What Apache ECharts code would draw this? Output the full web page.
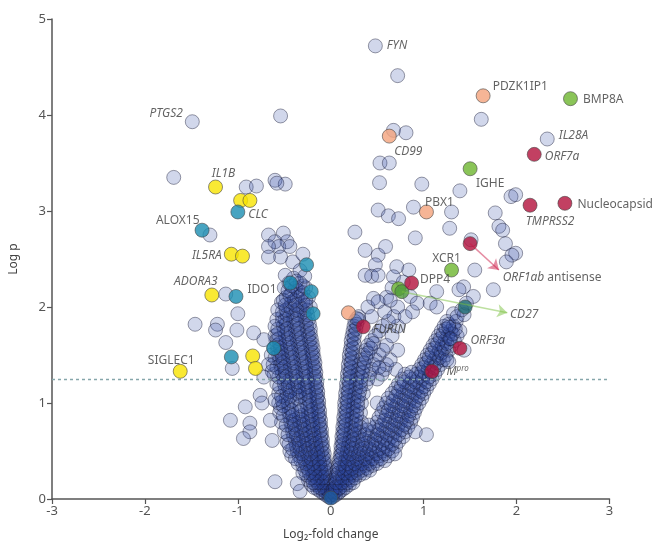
<!DOCTYPE html>
<html><head><meta charset="utf-8">
<script src="https://cdn.jsdelivr.net/npm/echarts/dist/echarts.min.js"></script>
<style>html,body{margin:0;padding:0;background:#fff}#c{width:666px;height:550px}</style>
</head><body><div id="c"></div>
<script>
// ---------------- DATA ----------------
const xTicks = [-3, -2, -1, 0, 1, 2, 3];
const yTicks = [0, 1, 2, 3, 4, 5];
const threshold = 1.25;

// labelled grey genes [log2FC, logP, name]
const greyLabelled = [[-1.49, 3.93, 'PTGS2'], [0.48, 4.72, 'FYN'], [2.33, 3.75, 'IL28A']];

// scattered grey genes, left side
const greyLeft = [
  [-1.69,3.35],[-0.54,3.99],[-0.91,3.25],[-0.80,3.26],[-0.60,3.32],[-0.49,3.28],[-0.58,3.29],
  [-1.30,2.75],[-0.67,2.75],[-0.51,2.77],[-0.60,2.68],[-0.47,2.68],[-0.56,2.63],[-0.67,2.63],
  [-0.44,2.63],[-0.54,2.52],[-0.67,2.52],[-1.13,2.135],[-1.46,1.82],[-1.22,1.82],[-1.0,1.93],
  [-1.24,1.76],[-1.01,1.76],[-1.13,1.63],[-0.83,1.73],[-0.72,1.66],[-1.06,1.36],[-0.67,1.40],
  [-0.63,1.33],[-0.72,1.27],[-0.76,1.08],[-0.74,1.0],[-0.92,0.96],[-0.60,1.03],[-1.08,0.82],
  [-0.87,0.79],[-0.87,0.70],[-0.65,0.82],[-0.63,0.61],[-0.94,0.63],[-0.60,0.18],[-0.36,0.16],
  [-0.33,0.08],[-0.41,2.47],[-0.33,2.38],[-0.49,2.33],[-0.37,2.27],[-0.30,2.55],[-0.28,2.32]
];

// scattered grey genes, right side
const greyRight = [
  [0.72,4.41],[1.62,3.955],[0.675,3.84],[0.81,3.815],[0.53,3.50],[0.63,3.50],[0.525,3.295],
  [0.98,3.28],[1.39,3.21],[1.94,3.15],[1.99,3.17],[0.89,3.04],[0.51,3.01],[0.62,2.95],[0.73,2.92],
  [1.30,2.99],[1.28,2.82],[1.77,2.98],[1.81,2.84],[1.85,2.80],[1.88,2.66],[1.51,2.70],[1.99,2.56],
  [1.95,2.54],[1.89,2.47],[0.26,2.78],[0.91,2.72],[0.37,2.59],[0.51,2.54],[0.59,2.63],[0.48,2.44],
  [0.44,2.32],[0.51,2.33],[0.37,2.33],[1.55,2.385],[1.75,2.18],[1.535,2.11],[1.43,2.21],[1.14,2.16],
  [1.07,2.04],[1.14,2.0],[1.38,2.18],[0.71,2.42],[0.84,2.385],[0.675,2.315],[0.78,2.26],[0.64,2.07],
  [0.855,2.11],[0.93,2.04],[0.46,2.09],[0.51,2.055],[0.28,1.88],[0.44,1.90],[1.32,1.93],[1.36,1.90],
  [1.435,1.92],[1.27,1.79],[1.29,1.67],[1.25,1.45],[1.435,1.55],[1.27,1.43],[1.03,0.67],[0.91,0.70],
  [1.41,1.97],[1.46,2.04]
];

// dense left arm of the volcano: [logP, [log2FC ...]]
const denseLeft = [
  [0.02,[-0.02]],[0.06,[-0.03,-0.08]],[0.10,[-0.04,-0.09,-0.14]],[0.15,[-0.04,-0.10,-0.16,-0.21]],
  [0.20,[-0.05,-0.11,-0.17,-0.24]],[0.25,[-0.06,-0.12,-0.19,-0.26]],[0.30,[-0.07,-0.13,-0.20,-0.28]],
  [0.35,[-0.07,-0.14,-0.22,-0.30]],[0.40,[-0.08,-0.15,-0.23,-0.32]],[0.45,[-0.09,-0.16,-0.25,-0.34,-0.42]],
  [0.50,[-0.10,-0.18,-0.27,-0.36,-0.44]],[0.55,[-0.10,-0.19,-0.28,-0.37]],[0.60,[-0.11,-0.20,-0.29,-0.38,-0.47]],
  [0.65,[-0.11,-0.21,-0.30,-0.40]],[0.70,[-0.12,-0.22,-0.31,-0.41,-0.50]],[0.75,[-0.12,-0.22,-0.32,-0.42]],
  [0.80,[-0.13,-0.23,-0.33,-0.43,-0.53]],[0.85,[-0.13,-0.24,-0.34,-0.44]],[0.90,[-0.14,-0.24,-0.35,-0.45,-0.55]],
  [0.95,[-0.14,-0.25,-0.45,-0.54]],[1.00,[-0.15,-0.26,-0.46,-0.56]],[1.05,[-0.15,-0.27,-0.36,-0.48]],
  [1.10,[-0.16,-0.27,-0.37,-0.47,-0.56]],[1.15,[-0.16,-0.28,-0.38,-0.49]],[1.20,[-0.17,-0.28,-0.39,-0.50,-0.58]],
  [1.25,[-0.17,-0.29,-0.40,-0.51]],[1.30,[-0.18,-0.30,-0.41,-0.52,-0.61]],[1.35,[-0.18,-0.30,-0.42,-0.53]],
  [1.40,[-0.19,-0.31,-0.43,-0.54,-0.62]],[1.45,[-0.20,-0.32,-0.44,-0.55]],[1.50,[-0.20,-0.33,-0.45,-0.56,-0.64]],
  [1.55,[-0.21,-0.34,-0.46,-0.57]],[1.60,[-0.22,-0.35,-0.47,-0.58]],[1.65,[-0.23,-0.36,-0.48,-0.59]],
  [1.70,[-0.24,-0.37,-0.49,-0.60]],[1.75,[-0.25,-0.38,-0.50]],[1.80,[-0.26,-0.39,-0.51,-0.60]],
  [1.85,[-0.27,-0.40,-0.52]],[1.90,[-0.28,-0.40,-0.52]],[1.95,[-0.29,-0.41,-0.52]],[2.00,[-0.22,-0.33,-0.44]],
  [2.05,[-0.30,-0.42,-0.53]],[2.10,[-0.24,-0.36,-0.48]],[2.15,[-0.30,-0.42]],[2.20,[-0.27,-0.38,-0.50]],
  [2.25,[-0.33,-0.45]],[2.30,[-0.40]]
];
// second, interleaved layer of the left arm
const denseLeft2 = [
  [0.04,[-0.05,-0.01]],[0.08,[-0.06,-0.11,-0.02]],[0.12,[-0.07,-0.12,-0.18]],[0.17,[-0.03,-0.08,-0.14,-0.19]],
  [0.22,[-0.04,-0.09,-0.15,-0.21]],[0.27,[-0.05,-0.10,-0.17,-0.23,-0.30]],[0.32,[-0.05,-0.11,-0.18,-0.25]],
  [0.37,[-0.06,-0.12,-0.19,-0.27,-0.35]],[0.42,[-0.07,-0.13,-0.21,-0.29,-0.38]],[0.47,[-0.07,-0.14,-0.22,-0.31]],
  [0.52,[-0.08,-0.15,-0.24,-0.33,-0.41]],[0.57,[-0.09,-0.16,-0.25,-0.34,-0.45]],[0.62,[-0.09,-0.17,-0.26,-0.35]],
  [0.67,[-0.10,-0.18,-0.27,-0.37,-0.46]],[0.72,[-0.10,-0.19,-0.28,-0.38]],[0.77,[-0.11,-0.19,-0.29,-0.39,-0.48]],
  [0.82,[-0.11,-0.20,-0.30,-0.40]],[0.87,[-0.12,-0.21,-0.31,-0.41,-0.51]],[0.92,[-0.12,-0.21,-0.32,-0.42]],
  [0.97,[-0.13,-0.22,-0.33,-0.51]],[1.02,[-0.13,-0.23,-0.42,-0.52]],[1.07,[-0.14,-0.23,-0.33,-0.44,-0.53]],
  [1.12,[-0.14,-0.24,-0.34,-0.44]],[1.17,[-0.15,-0.25,-0.35,-0.46,-0.55]],[1.22,[-0.15,-0.25,-0.36,-0.46]],
  [1.27,[-0.16,-0.26,-0.37,-0.48,-0.56]],[1.32,[-0.16,-0.27,-0.38,-0.49]],[1.37,[-0.17,-0.27,-0.39,-0.50,-0.58]],
  [1.42,[-0.17,-0.28,-0.40,-0.51]],[1.47,[-0.18,-0.29,-0.41,-0.52,-0.60]],[1.52,[-0.19,-0.30,-0.42,-0.53]],
  [1.57,[-0.19,-0.31,-0.43,-0.54,-0.61]],[1.62,[-0.20,-0.32,-0.44,-0.55]],[1.67,[-0.21,-0.33,-0.45,-0.56]],
  [1.72,[-0.22,-0.34,-0.46,-0.57]],[1.77,[-0.22,-0.35,-0.47,-0.57]],[1.82,[-0.23,-0.36,-0.48]],
  [1.87,[-0.24,-0.37,-0.49,-0.58]],[1.92,[-0.25,-0.36,-0.47]],[1.97,[-0.26,-0.37,-0.48,-0.57]],
  [2.02,[-0.27,-0.38,-0.49]],[2.07,[-0.27,-0.39,-0.51]],[2.12,[-0.32,-0.44]],[2.17,[-0.35,-0.46]],[2.22,[-0.30,-0.42]]
];

// dense right arm of the volcano: [logP, [log2FC ...]]
const denseRight = [
  [0.02,[0.02]],[0.06,[0.03,0.08]],[0.10,[0.03,0.08,0.13]],[0.15,[0.04,0.09,0.15,0.20]],
  [0.20,[0.05,0.10,0.16,0.22]],[0.25,[0.06,0.12,0.18,0.25,0.31]],[0.30,[0.07,0.13,0.20,0.27,0.34,0.42]],
  [0.35,[0.08,0.15,0.22,0.29,0.37,0.45]],[0.40,[0.09,0.16,0.24,0.32,0.40,0.49,0.58]],
  [0.45,[0.10,0.17,0.25,0.34,0.43,0.52,0.62]],[0.50,[0.11,0.18,0.27,0.36,0.46,0.56,0.66]],
  [0.55,[0.11,0.19,0.28,0.38,0.48,0.59,0.70]],[0.60,[0.12,0.20,0.29,0.40,0.51,0.62,0.73]],
  [0.65,[0.12,0.21,0.30,0.42,0.54,0.66,0.78]],[0.70,[0.13,0.22,0.31,0.45,0.57,0.69,0.80]],
  [0.75,[0.13,0.22,0.32,0.48,0.60,0.72,0.83]],[0.80,[0.14,0.23,0.33,0.50,0.63,0.75,0.86]],
  [0.85,[0.14,0.23,0.52,0.65,0.77,0.88]],[0.90,[0.15,0.24,0.32,0.55,0.67,0.79,0.90]],
  [0.95,[0.15,0.24,0.57,0.69,0.81,0.92]],[1.00,[0.15,0.25,0.33,0.50,0.60,0.72,0.84,0.95]],
  [1.05,[0.16,0.25,0.62,0.75,0.87,0.98]],[1.10,[0.16,0.26,0.35,0.66,0.78,0.90,1.00]],
  [1.15,[0.17,0.27,0.70,0.82,0.93,1.03]],[1.20,[0.17,0.27,0.38,0.73,0.85,0.96,1.06]],
  [1.25,[0.18,0.28,0.40,0.50,0.77,0.88,0.99,1.09]],[1.30,[0.18,0.29,0.42,0.55,0.80,0.92,1.02,1.12]],
  [1.35,[0.19,0.30,0.44,0.58,0.70,0.95,1.05,1.15]],[1.40,[0.19,0.31,0.46,0.60,0.98,1.08,1.18]],
  [1.45,[0.20,0.33,0.48,0.64,1.01,1.11,1.21]],[1.50,[0.20,0.35,0.52,1.04,1.14,1.24]],
  [1.55,[0.21,0.38,0.56,0.72,1.07,1.17,1.27]],[1.60,[0.22,0.40,0.60,1.10,1.20,1.30]],
  [1.65,[0.22,0.44,1.13,1.23,1.33]],[1.70,[0.23,0.48,0.66,1.16,1.26,1.36]],
  [1.75,[0.24,0.52,1.19,1.29,1.39]],[1.80,[0.25,0.56,0.72,1.22,1.32]],[1.85,[0.26,0.62,1.25,1.35]],
  [1.90,[0.30,0.68,0.80]],[1.95,[0.58,0.88]],[2.00,[0.40,0.72]],[2.10,[0.60]],[2.20,[0.66]]
];
// second, interleaved layer of the right arm
const denseRight2 = [
  [0.04,[0.01,0.05]],[0.08,[0.05,0.10,0.01]],[0.12,[0.05,0.10,0.16]],[0.17,[0.06,0.12,0.18,0.24]],
  [0.22,[0.07,0.13,0.19,0.26]],[0.27,[0.08,0.15,0.22,0.29,0.36]],[0.32,[0.09,0.16,0.23,0.31,0.39]],
  [0.37,[0.10,0.18,0.26,0.34,0.42,0.50]],[0.42,[0.11,0.19,0.28,0.37,0.45,0.54]],
  [0.47,[0.12,0.21,0.30,0.39,0.49,0.58,0.69]],[0.52,[0.13,0.22,0.32,0.42,0.52,0.62]],
  [0.57,[0.13,0.23,0.34,0.44,0.55,0.66]],[0.62,[0.14,0.24,0.35,0.47,0.58,0.69]],
  [0.67,[0.14,0.25,0.37,0.50,0.61,0.73]],[0.72,[0.15,0.26,0.39,0.52,0.64,0.76]],
  [0.77,[0.16,0.27,0.41,0.55,0.67,0.79]],[0.82,[0.16,0.27,0.58,0.70,0.82]],[0.87,[0.17,0.28,0.60,0.72,0.84]],
  [0.92,[0.17,0.28,0.62,0.74,0.86]],[0.97,[0.18,0.29,0.65,0.77,0.89]],[1.02,[0.18,0.29,0.67,0.79,0.91]],
  [1.07,[0.19,0.30,0.70,0.82,0.94]],[1.12,[0.19,0.31,0.73,0.85,0.97]],[1.17,[0.20,0.32,0.76,0.88,1.00]],
  [1.22,[0.20,0.32,0.79,0.91,1.03]],[1.27,[0.21,0.33,0.84,0.95,1.06]],[1.32,[0.21,0.34,0.87,0.98,1.08]],
  [1.37,[0.22,0.35,0.52,1.00,1.11]],[1.42,[0.22,0.36,1.03,1.14]],[1.47,[0.23,0.38,1.06,1.17]],
  [1.52,[0.23,0.40,1.09,1.19]],[1.57,[0.24,0.43,1.12,1.22]],[1.62,[0.25,0.46,1.15,1.25]],
  [1.67,[0.25,1.18,1.28]],[1.72,[0.26,1.21,1.31]],[1.77,[0.27,1.24,1.34]],[1.82,[0.28,1.27]],[1.87,[0.30]]
];

// highlighted genes [log2FC, logP, label]
const yellowGenes = [[-1.24,3.25,'IL1B'],[-0.97,3.11,''],[-0.87,3.11,''],[-1.07,2.55,'IL5RA'],[-0.95,2.53,''],
  [-1.28,2.125,'ADORA3'],[-1.62,1.33,'SIGLEC1'],[-0.84,1.49,''],[-0.81,1.36,'']];
const tealGenes = [[-1.0,2.99,'CLC'],[-1.385,2.80,'ALOX15'],[-1.02,2.11,'IDO1'],[-0.26,2.44,''],[-0.435,2.25,''],
  [-0.21,2.16,''],[-0.19,1.93,''],[-1.07,1.48,''],[-0.615,1.57,'']];
const orangeGenes = [[0.63,3.78,'CD99'],[1.64,4.20,'PDZK1IP1'],[1.03,2.99,'PBX1'],[0.19,1.94,'']];
const greenGenes = [[2.58,4.17,'BMP8A'],[1.50,3.44,'IGHE'],[1.30,2.385,'XCR1'],[0.73,2.19,'CD27']];
const darkGreenGenes = [[0.765,2.16,'']];
const darkTealGenes = [[1.446,2.0,'']];
const vertexGene = [[0.0,0.01,'']];
const redGenes = [[2.19,3.59,'ORF7a'],[2.145,3.06,'TMPRSS2'],[2.52,3.08,'Nucleocapsid'],[1.50,2.66,'ORF1ab antisense'],
  [0.87,2.25,'DPP4'],[0.35,1.795,'FURIN'],[1.39,1.57,'ORF3a'],[1.09,1.33,'Mpro']];

// arrows [from, to]
const redArrow = [[1.50,2.66],[1.81,2.385]];
const greenArrow = [[0.765,2.16],[1.90,1.94]];

// ---------------- STYLE ----------------
const FONT = 'Noto Sans';
const labelStyle = {
  PTGS2:{pos:'left',d:2,off:[0,-8],it:true},
  IL1B:{pos:'top',d:0,off:[8,0],it:true},
  CLC:{pos:'right',d:3,off:[0,3],it:true},
  ALOX15:{pos:'left',d:0,off:[5,-10],it:false},
  IL5RA:{pos:'left',d:2,off:[0,1],it:true},
  ADORA3:{pos:'top',d:1,off:[-16,1],it:true},
  IDO1:{pos:'right',d:4,off:[0,-7],it:false},
  SIGLEC1:{pos:'top',d:0,off:[-9,3],it:false},
  FYN:{pos:'right',d:4,off:[0,0],it:true},
  CD99:{pos:'bottom',d:2,off:[19,0],it:true},
  PDZK1IP1:{pos:'right',d:2,off:[0,-9],it:false},
  BMP8A:{pos:'right',d:5,off:[0,1],it:false},
  IL28A:{pos:'right',d:4,off:[0,-3],it:true},
  ORF7a:{pos:'right',d:3,off:[0,2],it:true},
  IGHE:{pos:'bottom',d:1,off:[20,0],it:false},
  Nucleocapsid:{pos:'right',d:5,off:[0,1],it:false},
  TMPRSS2:{pos:'bottom',d:3,off:[20,0],it:true},
  PBX1:{pos:'top',d:0,off:[13,4],it:false},
  XCR1:{pos:'top',d:0,off:[-5,2],it:false},
  'ORF1ab antisense':{pos:'right',d:0,off:[25,34],it:false,fmt:'{i|ORF1ab} antisense'},
  DPP4:{pos:'right',d:1,off:[0,-3],it:false},
  CD27:{pos:'right',d:0,off:[104,26],it:true},
  FURIN:{pos:'right',d:2,off:[0,3],it:true},
  ORF3a:{pos:'right',d:3,off:[0,-8],it:true},
  Mpro:{pos:'right',d:7,off:[0,0],it:false,fmt:'{i|M}{s|pro}'}
};

function toItems(arr) {
  return arr.map(function (p) {
    const item = { value: [p[0], p[1]] };
    const st = labelStyle[p[2]];
    if (p[2] && st) {
      item.label = {
        show: true, position: st.pos, distance: st.d, offset: st.off,
        formatter: st.fmt || p[2], fontStyle: st.it ? 'italic' : 'normal',
        fontFamily: FONT, fontSize: 12, color: '#3c3c3c',
        rich: {
          i: { fontStyle: 'italic', fontFamily: FONT, fontSize: 12, color: '#3c3c3c' },
          s: { fontStyle: 'italic', fontFamily: FONT, fontSize: 8, color: '#3c3c3c', padding: [0, 0, 6, 0] }
        }
      };
    }
    return item;
  });
}

function expandRows(rows) {
  const out = [];
  rows.forEach(function (row) { row[1].forEach(function (x) { out.push([x, row[0]]); }); });
  return out;
}
const densePoints = expandRows(denseLeft).concat(expandRows(denseLeft2), expandRows(denseRight), expandRows(denseRight2));

const greyStyle = { color: 'rgba(40,68,160,0.27)', borderColor: 'rgba(25,28,55,0.55)', borderWidth: 1 };
function colored(name, arr, fill, z) {
  return {
    name: name, type: 'scatter', data: toItems(arr), symbolSize: 14, z: z || 5,
    itemStyle: { color: fill, borderColor: 'rgba(70,70,70,0.75)', borderWidth: 1 },
    emphasis: { disabled: true }, silent: true
  };
}

const chart = echarts.init(document.getElementById('c'), null, { renderer: 'canvas' });
chart.setOption({
  animation: false,
  backgroundColor: '#fff',
  grid: { left: 51.5, right: 56.5, top: 19, bottom: 51, containLabel: false },
  xAxis: {
    type: 'value', min: xTicks[0], max: xTicks[xTicks.length - 1], interval: 1,
    name: 'Log\u2082-fold change', nameLocation: 'middle', nameGap: 30,
    nameTextStyle: { fontFamily: FONT, fontSize: 12, color: '#444' },
    axisLine: { show: true, onZero: false, lineStyle: { color: '#555', width: 1.5 } },
    axisTick: { show: true, length: 5, lineStyle: { color: '#555', width: 1.2 } },
    axisLabel: { fontFamily: FONT, fontSize: 13, color: '#555', margin: 6 },
    splitLine: { show: false }
  },
  yAxis: {
    type: 'value', min: yTicks[0], max: yTicks[yTicks.length - 1], interval: 1,
    name: 'Log p', nameLocation: 'middle', nameGap: 32,
    nameTextStyle: { fontFamily: FONT, fontSize: 12, color: '#444' },
    axisLine: { show: true, onZero: false, lineStyle: { color: '#555', width: 1.5 } },
    axisTick: { show: true, length: 5, lineStyle: { color: '#555', width: 1.2 } },
    axisLabel: { fontFamily: FONT, fontSize: 13, color: '#555', margin: 6 },
    splitLine: { show: false }
  },
  series: [
    {
      name: 'dense', type: 'scatter', data: densePoints, symbolSize: 14, z: 2, large: false, progressive: 0,
      itemStyle: greyStyle, silent: true,
      markLine: {
        silent: true, symbol: 'none', label: { show: false },
        lineStyle: { type: [3, 3], color: '#86a6ab', width: 1.3 },
        data: [{ yAxis: threshold }]
      }
    },
    { name: 'greyL', type: 'scatter', data: greyLeft, symbolSize: 14, z: 2, itemStyle: greyStyle, silent: true },
    { name: 'greyR', type: 'scatter', data: greyRight, symbolSize: 14, z: 2, itemStyle: greyStyle, silent: true },
    { name: 'greyLab', type: 'scatter', data: toItems(greyLabelled), symbolSize: 14, z: 2, itemStyle: greyStyle, silent: true },
    colored('vertex', vertexGene, '#1f5a9e', 3),
    colored('yellow', yellowGenes, '#f7e300'),
    colored('teal', tealGenes, '#1a8db2'),
    colored('orange', orangeGenes, '#f4a27c'),
    colored('green', greenGenes, '#6db52e'),
    colored('dgreen', darkGreenGenes, '#4f9a3c'),
    colored('dteal', darkTealGenes, '#1d6a70'),
    colored('red', redGenes, '#b3103b'),
    {
      type: 'lines', coordinateSystem: 'cartesian2d', z: 6, silent: true,
      symbol: ['none', 'arrow'], symbolSize: 10,
      data: [
        { coords: redArrow, lineStyle: { color: '#cc1a45', width: 1.5 } },
        { coords: greenArrow, lineStyle: { color: '#7cc142', width: 1.5 } }
      ]
    }
  ]
});
</script></body></html>
